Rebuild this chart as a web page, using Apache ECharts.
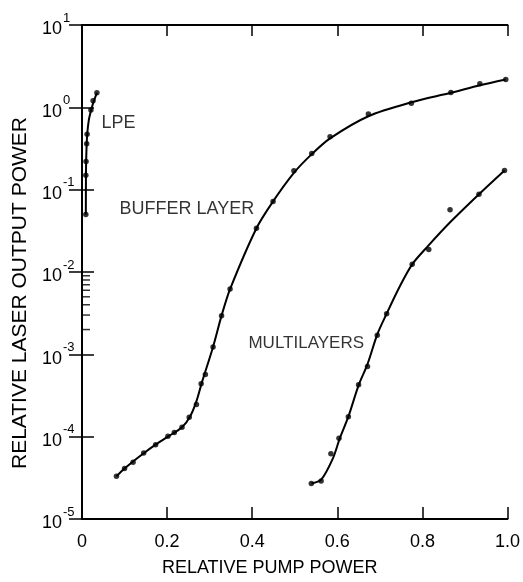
<!DOCTYPE html>
<html>
<head>
<meta charset="utf-8">
<script src="https://cdn.jsdelivr.net/npm/echarts@6/dist/echarts.min.js"></script>
<style>
  html, body { margin: 0; padding: 0; background: #fff; }
  #chart { width: 523px; height: 582px; }
</style>
</head>
<body>
<div id="chart"></div>
<script>
// tick labels
var xTickLabels = ['0', '0.2', '0.4', '0.6', '0.8', '1.0'];
var yExponents = ['-5', '-4', '-3', '-2', '-1', '0', '1'];
var leftMinorTicks = [0.002, 0.003, 0.004, 0.005, 0.006, 0.007, 0.008, 0.009];

// measured points [pump power, output power]
var lpeDots = [[0.009, 0.05], [0.009, 0.15], [0.0095, 0.22], [0.011, 0.36], [0.012, 0.47],
    [0.021, 0.93], [0.026, 1.2], [0.035, 1.5]];
var bufferDots = [[0.081, 3.3e-5], [0.100, 4.1e-5], [0.120, 4.9e-5], [0.145, 6.35e-5],
    [0.173, 8.0e-5], [0.202, 1.01e-4], [0.217, 1.12e-4], [0.235, 1.3e-4], [0.252, 1.72e-4],
    [0.269, 2.46e-4], [0.280, 4.4e-4], [0.290, 5.7e-4], [0.308, 1.23e-3], [0.328, 2.95e-3],
    [0.348, 6.2e-3], [0.410, 0.034], [0.449, 0.072], [0.498, 0.17], [0.540, 0.275],
    [0.583, 0.44], [0.673, 0.83], [0.774, 1.12], [0.867, 1.51], [0.935, 1.94], [0.996, 2.18]];
var multiDots = [[0.539, 2.7e-5], [0.562, 2.9e-5], [0.585, 6.2e-5], [0.604, 9.6e-5],
    [0.626, 1.75e-4], [0.650, 4.27e-4], [0.671, 7.1e-4], [0.694, 1.71e-3], [0.716, 3.12e-3],
    [0.776, 0.0124], [0.815, 0.0188], [0.865, 0.057], [0.933, 0.088], [0.993, 0.171]];

// fitted curves
var lpeCurve = [[0.009, 0.05], [0.0093, 0.15], [0.01, 0.25], [0.012, 0.45], [0.016, 0.7],
    [0.022, 0.95], [0.028, 1.2], [0.035, 1.5]];
var bufferCurve = [[0.081, 3.3e-5], [0.100, 4.1e-5], [0.120, 5.0e-5], [0.145, 6.3e-5],
    [0.173, 8.0e-5], [0.202, 1.0e-4], [0.235, 1.3e-4], [0.255, 1.8e-4], [0.270, 2.8e-4],
    [0.282, 4.6e-4], [0.308, 1.23e-3], [0.328, 2.95e-3], [0.348, 6.2e-3], [0.410, 0.034],
    [0.449, 0.072], [0.498, 0.16], [0.540, 0.27], [0.583, 0.42], [0.673, 0.78],
    [0.774, 1.15], [0.867, 1.5], [0.935, 1.85], [0.996, 2.18]];
var multiCurve = [[0.539, 2.7e-5], [0.562, 3.0e-5], [0.590, 5.5e-5], [0.606, 9.6e-5],
    [0.626, 1.75e-4], [0.650, 4.2e-4], [0.671, 7.6e-4], [0.694, 1.75e-3], [0.716, 3.12e-3],
    [0.745, 6.4e-3], [0.776, 0.0124], [0.814, 0.0209], [0.864, 0.0396], [0.933, 0.088],
    [0.993, 0.171]];

// curve names placed in data space
var curveNames = [[0.0857, 0.638, 'LPE'], [0.2465, 0.0577, 'BUFFER LAYER'], [0.527, 1.37e-3, 'MULTILAYERS']];
var curveNameSizes = [18, 18, 17];

var font = 'Liberation Sans';
var ink = '#000';

var chart = echarts.init(document.getElementById('chart'));

function curve(d) {
    return {
        type: 'line', data: d, smooth: 0.3, symbol: 'none', silent: true,
        lineStyle: { color: ink, width: 2 }, z: 3
    };
}
function dots(d) {
    return {
        type: 'scatter', data: d, symbolSize: 5.5, silent: true,
        itemStyle: { color: ink }, z: 4
    };
}

var option = {
    animation: false,
    backgroundColor: '#fff',
    grid: { left: 82, right: 13, top: 25, bottom: 55 },
    xAxis: [{
        type: 'value', position: 'bottom', min: 0, max: 1, interval: 0.2,
        axisLine: { lineStyle: { color: ink, width: 2 } },
        axisTick: { inside: true, length: 12, lineStyle: { color: ink, width: 1.5 } },
        splitLine: { show: false },
        axisLabel: {
            margin: 14, color: ink, fontFamily: font, fontSize: 18,
            formatter: function (v, i) { return xTickLabels[i]; }
        },
        name: 'RELATIVE PUMP POWER', nameLocation: 'middle', nameGap: 40,
        nameTextStyle: { color: ink, fontFamily: font, fontSize: 18, padding: [0, 50, 0, 0] }
    }, {
        type: 'value', position: 'top', min: 0, max: 1, interval: 0.2,
        axisLine: { lineStyle: { color: ink, width: 2 } },
        axisTick: { inside: true, length: 11, lineStyle: { color: ink, width: 1.5 } },
        splitLine: { show: false },
        axisLabel: { show: false }
    }],
    yAxis: [{
        type: 'log', logBase: 10, min: 1e-5, max: 10, splitNumber: 6, position: 'left',
        axisLine: { lineStyle: { color: ink, width: 2 } },
        axisTick: { inside: true, length: 12, lineStyle: { color: ink, width: 1.5 } },
        splitLine: { show: false },
        axisLabel: {
            margin: 40, align: 'left', color: ink, fontFamily: font,
            formatter: function (v, i) { return '{b|10}{s|' + yExponents[i] + '}'; },
            rich: {
                b: { fontSize: 18, fontFamily: font, color: ink, verticalAlign: 'bottom' },
                s: { fontSize: 13, fontFamily: font, color: ink, verticalAlign: 'top', padding: [0, 0, 14, 1] }
            }
        },
        name: 'RELATIVE LASER OUTPUT POWER', nameLocation: 'middle', nameRotate: 90, nameGap: 44,
        nameTextStyle: { color: ink, fontFamily: font, fontSize: 21, padding: [0, 42, 0, 0] }
    }, {
        type: 'log', logBase: 10, min: 1e-5, max: 10, splitNumber: 6, position: 'right',
        axisLine: { lineStyle: { color: ink, width: 2 } },
        axisTick: { inside: true, length: 13, lineStyle: { color: ink, width: 1.5 } },
        splitLine: { show: false },
        axisLabel: { show: false }
    }],
    series: [
        curve(lpeCurve), dots(lpeDots),
        curve(bufferCurve), dots(bufferDots),
        curve(multiCurve), dots(multiDots),
        {
            type: 'scatter', silent: true, clip: false,
            data: leftMinorTicks.map(function (v) { return [0, v]; }),
            symbol: 'rect', symbolSize: [8, 1.5], symbolOffset: [4, 0],
            itemStyle: { color: ink }
        },
        {
            type: 'scatter', silent: true, symbolSize: 0,
            data: curveNames.map(function (c, i) {
                return { value: [c[0], c[1]], name: c[2], label: { fontSize: curveNameSizes[i] } };
            }),
            label: {
                show: true, position: 'inside', formatter: '{b}',
                color: ink, fontFamily: font, fontSize: 17
            }
        }
    ]
};

chart.setOption(option);
</script>
</body>
</html>
